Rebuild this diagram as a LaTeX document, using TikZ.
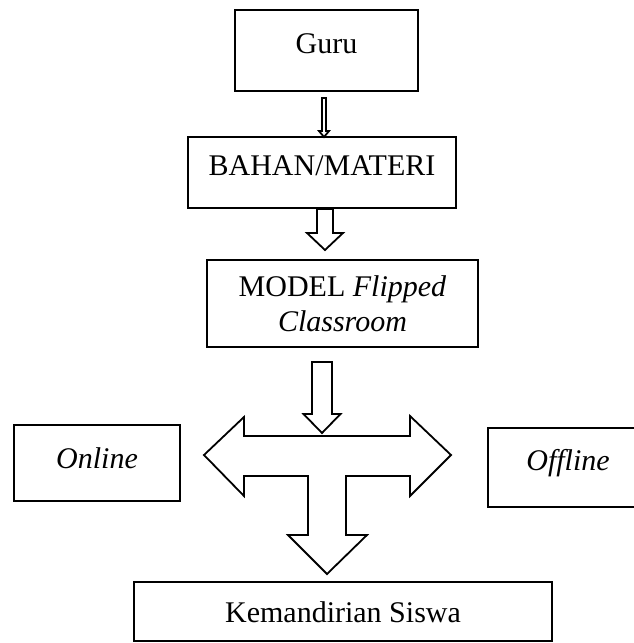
\documentclass[tikz,border=0pt]{standalone}
\usepackage{fontspec}
\setmainfont{Liberation Serif}
\usetikzlibrary{calc}

% hollow block arrow pointing down: start, tip, half shaft, half head, head length
\newcommand{\dnarrow}[5]{%
  \draw[blockarr] let \p1=(#1), \p2=(#2) in
    (\x1-#3pt,\y1) -- (\x1+#3pt,\y1) -- (\x1+#3pt,\y2+#5pt) -- (\x1+#4pt,\y2+#5pt)
    -- (\x1,\y2) -- (\x1-#4pt,\y2+#5pt) -- (\x1-#3pt,\y2+#5pt) -- cycle;}

\begin{document}
\begin{tikzpicture}[x=1pt, y=-1pt,
  box/.style={draw, line width=2.2pt, inner sep=0pt, font=\fontsize{30}{35}\selectfont},
  blockarr/.style={draw, line width=1.8pt, fill=white, line join=miter}]
  \useasboundingbox (0,0) rectangle (634,643);
  \clip (0,0) rectangle (634,643);

  \node[box, minimum width=183pt, text height=43pt, text depth=38pt, anchor=base] (guru) at (326.5,53) {Guru};
  \node[box, minimum width=268pt, text height=38pt, text depth=33pt, anchor=base] (bahan) at (322,175) {BAHAN/MATERI};
  \node[box, minimum width=271pt, minimum height=87pt, align=center] (model) at (342.5,303.5) {MODEL \textit{Flipped}\\ \textit{Classroom}};
  \node[box, minimum width=166pt, text height=43pt, text depth=33pt, anchor=base] (online) at (97,468) {\textit{Online}};
  \node[box, minimum width=160pt, text height=42pt, text depth=37pt, anchor=base] (offline) at (568,470) {\textit{Offline}};
  \node[box, minimum width=418pt, text height=40pt, text depth=19pt, anchor=base] (siswa) at (343,622) {Kemandirian Siswa};

  % arrows between the boxes
  \coordinate (a1s) at (324,98);  \coordinate (a1t) at (324,137);
  \coordinate (a2s) at (325,209); \coordinate (a2t) at (325,250);
  \coordinate (a3s) at (322,362); \coordinate (a3t) at (322,433);
  \dnarrow{a1s}{a1t}{2}{5}{6}
  \dnarrow{a2s}{a2t}{8}{18}{17}
  \dnarrow{a3s}{a3t}{10}{18.5}{19}

  % three way arrow
  \draw[blockarr] (204,455) -- (244,417) -- (244,436) -- (410,436) -- (410,416) -- (451,455)
    -- (410,496) -- (410,476) -- (346,476) -- (346,535) -- (367,535) -- (327,574)
    -- (288,535) -- (308,535) -- (308,476) -- (244,476) -- (244,496) -- cycle;
\end{tikzpicture}
\end{document}
